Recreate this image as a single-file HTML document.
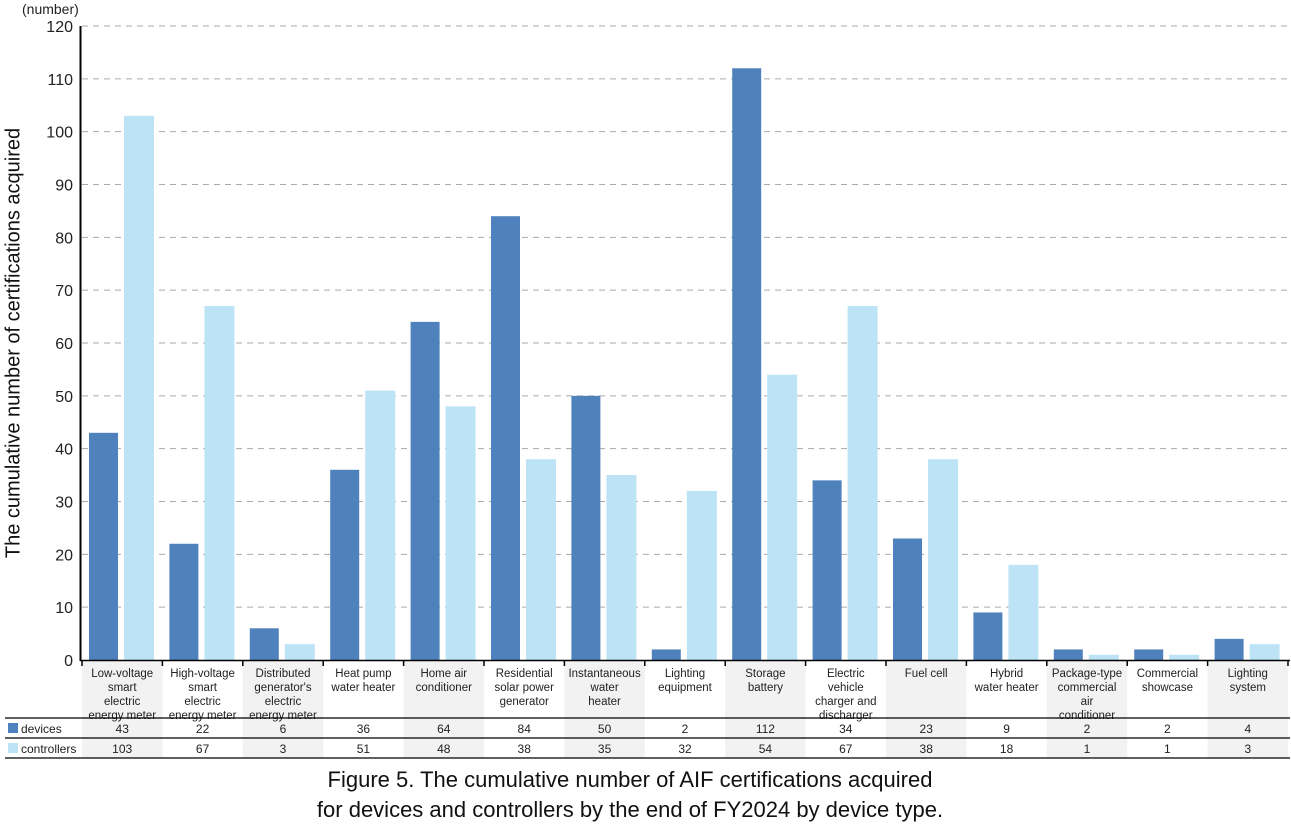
<!DOCTYPE html>
<html><head><meta charset="utf-8"><style>
body{margin:0;background:#fff;width:1291px;height:826px;overflow:hidden;font-family:"Liberation Sans",sans-serif}
</style></head><body>
<svg id="chart" width="1291" height="826" xmlns="http://www.w3.org/2000/svg" font-family="Liberation Sans, sans-serif"></svg>
<script>
const categories=[["Low-voltage","smart","electric","energy meter"],["High-voltage","smart","electric","energy meter"],["Distributed","generator's","electric","energy meter"],["Heat pump","water heater"],["Home air","conditioner"],["Residential","solar power","generator"],["Instantaneous","water","heater"],["Lighting","equipment"],["Storage","battery"],["Electric","vehicle","charger and","discharger"],["Fuel cell"],["Hybrid","water heater"],["Package-type","commercial","air","conditioner"],["Commercial","showcase"],["Lighting","system"]];
const devices=[43,22,6,36,64,84,50,2,112,34,23,9,2,2,4];
const controllers=[103,67,3,51,48,38,35,32,54,67,38,18,1,1,3];
const yTicks=[0,10,20,30,40,50,60,70,80,90,100,110,120];
const svg=document.getElementById('chart');
const NS="http://www.w3.org/2000/svg";
const x0=82,cw=80.4,y0=660,yTop=26,yMax=120;
const ys=v=>y0-(v/yMax)*(y0-yTop);
const xs=i=>x0+i*cw;
function mk(t,a,txt){const e=document.createElementNS(NS,t);for(const k in a)e.setAttribute(k,a[k]);if(txt!==undefined)e.textContent=txt;svg.appendChild(e);return e;}
// shading
categories.forEach((c,i)=>{if(i%2===0){const r=mk('rect',{x:xs(i),y:661,width:cw,height:97,fill:'#f2f2f2'});

}});
// grid + y ticks
yTicks.forEach(v=>{
 if(v>0){const l=mk('line',{x1:82,x2:1290,y1:ys(v),y2:ys(v),stroke:'#aaa','stroke-dasharray':'6,5','stroke-width':1});
 
 }
 const t=mk('text',{x:73,y:ys(v)+6,'text-anchor':'end','font-size':16,fill:'#222'},v);
 
 
});
// bars
categories.forEach((c,i)=>{
 const b1=mk('rect',{x:xs(i)+7,y:ys(devices[i]),width:29,height:y0-ys(devices[i]),fill:'#4f81bd'});
 
 
 const b2=mk('rect',{x:xs(i)+42,y:ys(controllers[i]),width:30,height:y0-ys(controllers[i]),fill:'#bde3f6'});
 
 
 c.forEach((ln,k)=>{const t=mk('text',{x:xs(i)+cw/2,y:677+k*14,'text-anchor':'middle','font-size':11.5,fill:'#222'},ln);
 
 });
 const d=mk('text',{x:xs(i)+cw/2,y:733,'text-anchor':'middle','font-size':12,fill:'#222'},devices[i]);
 
 
 const e=mk('text',{x:xs(i)+cw/2,y:753,'text-anchor':'middle','font-size':12,fill:'#222'},controllers[i]);
 
 
});
// category ticks
for(let i=0;i<=categories.length;i++){const l=mk('line',{x1:xs(i),x2:xs(i),y1:660,y2:666,stroke:'#000','stroke-width':1.5});

}
// axes
const ax=mk('line',{x1:80.5,x2:80.5,y1:26,y2:661,stroke:'#000','stroke-width':2});


const bx=mk('line',{x1:80,x2:1290,y1:660.5,y2:660.5,stroke:'#000','stroke-width':1.5});


// table lines
[718,738,758].forEach(y=>{const l=mk('line',{x1:5,x2:1290,y1:y,y2:y,stroke:'#000','stroke-width':1.3});

});
</script>
<div style="position:absolute;left:0;top:0;width:1291px;height:826px;pointer-events:none">
 <div style="position:absolute;left:22px;top:1px;font-size:14px;color:#222">(number)</div>
 <div style="position:absolute;left:14px;top:343px;width:0;height:0"><div style="position:absolute;transform:translate(-50%,-50%) rotate(-90deg);white-space:nowrap;font-size:20px;color:#111">The cumulative number of certifications acquired</div></div>
 <div style="position:absolute;left:8px;top:722px;font-size:12px;color:#222"><span style="display:inline-block;width:10px;height:10px;background:#4f81bd;margin-right:3px"></span>devices</div>
 <div style="position:absolute;left:8px;top:742px;font-size:12px;color:#222"><span style="display:inline-block;width:10px;height:10px;background:#bde3f6;margin-right:3px"></span>controllers</div>
 <div style="position:absolute;left:0;top:765px;width:1260px;text-align:center;font-size:22px;line-height:30px;color:#111">Figure 5. The cumulative number of AIF certifications acquired<br>for devices and controllers by the end of FY2024 by device type.</div>
</div>
</body></html>
